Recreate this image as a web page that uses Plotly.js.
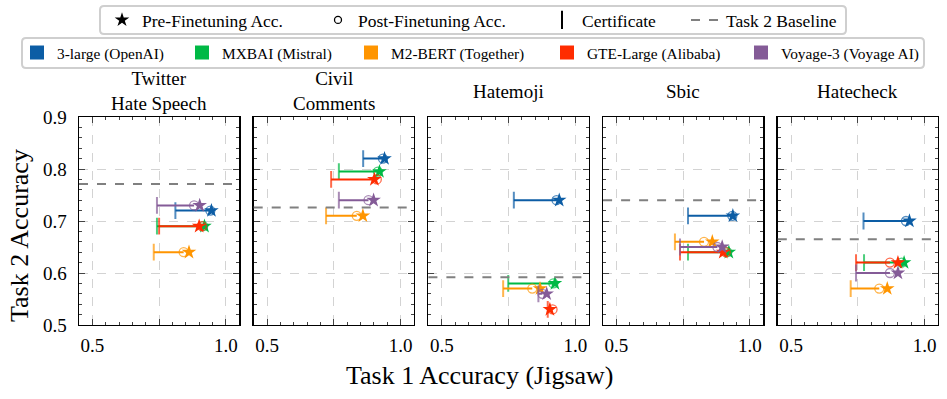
<!DOCTYPE html>
<html>
<head>
<meta charset="utf-8">
<script src="https://cdn.plot.ly/plotly-3.0.1.min.js"></script>
<style>body{margin:0;background:#fff}#chart{width:947px;height:399px}</style>
</head>
<body>
<div id="chart"></div>
<script>
const datasets = ['Twitter<br>Hate Speech', 'Civil<br>Comments', 'Hatemoji', 'Sbic', 'Hatecheck'];
const models = ['3-large (OpenAI)', 'MXBAI (Mistral)', 'M2-BERT (Together)', 'GTE-Large (Alibaba)', 'Voyage-3 (Voyage AI)'];
const colors = ['#0C5DA5', '#00B945', '#FF9500', '#FF2C00', '#845B97'];
const baseline = [0.771, 0.726, 0.592, 0.740, 0.665];

// rows = models, cols = datasets
const preAcc = [
    [0.946, 0.940, 0.940, 0.936, 0.943],
    [0.920, 0.921, 0.924, 0.921, 0.923],
    [0.862, 0.859, 0.868, 0.859, 0.860],
    [0.900, 0.902, 0.905, 0.900, 0.900],
    [0.902, 0.899, 0.893, 0.896, 0.900]
];
const postAcc = [
    [0.942, 0.934, 0.930, 0.934, 0.930],
    [0.915, 0.915, 0.918, 0.915, 0.914],
    [0.842, 0.836, 0.839, 0.828, 0.830],
    [0.910, 0.911, 0.915, 0.909, 0.870],
    [0.881, 0.880, 0.877, 0.878, 0.870]
];
const certAcc = [
    [0.811, 0.860, 0.770, 0.768, 0.771],
    [0.742, 0.769, 0.749, 0.768, 0.773],
    [0.730, 0.721, 0.730, 0.719, 0.723],
    [0.750, 0.740, 0.897, 0.738, 0.743],
    [0.742, 0.769, 0.862, 0.738, 0.743]
];
const task2Acc = [
    [0.72, 0.82, 0.74, 0.71, 0.70],
    [0.69, 0.795, 0.58, 0.64, 0.62],
    [0.64, 0.71, 0.57, 0.66, 0.57],
    [0.69, 0.78, 0.53, 0.64, 0.62],
    [0.73, 0.74, 0.56, 0.65, 0.60]
];
const markerNames = ['Pre-Finetuning Acc.', 'Post-Finetuning Acc.', 'Certificate', 'Task 2 Baseline'];

const FONT = 'Liberation Serif, serif';
const W = 947, H = 399;
const M = { l: 79, r: 9, t: 117, b: 74, autoexpand: false };
const PWpx = W - M.l - M.r, PHpx = H - M.t - M.b;
const GAP = 14.5 / PWpx;
const PW = (1 - 4 * GAP) / 5;

// pixel helpers for things placed outside the plots
const px2x = px => (px - M.l) / PWpx;
const px2y = py => (H - M.b - py) / PHpx;

const traces = [];
const layout = {
    width: W, height: H, margin: M,
    paper_bgcolor: '#fff', plot_bgcolor: '#fff',
    font: { family: FONT, size: 19, color: '#000' },
    showlegend: true,
    shapes: [], annotations: []
};

datasets.forEach((ds, d) => {
    const n = d === 0 ? '' : d + 1;
    const xa = 'x' + n, ya = 'y' + n;
    layout['xaxis' + n] = {
        domain: [d * (PW + GAP), d * (PW + GAP) + PW],
        range: [0.45, 1.05], anchor: ya,
        tickvals: [0.5, 0.75, 1.0], ticktext: ['0.5', '', '1.0'],
        ticks: 'inside', ticklen: 6, tickwidth: 1, mirror: 'allticks', ticklabelstandoff: 3,
        showline: true, linecolor: '#000', linewidth: 1.4,
        showgrid: true, gridcolor: '#d3d3d3', griddash: 'dash', gridwidth: 1,
        minor: { dtick: 0.05, ticks: 'inside', ticklen: 3, showgrid: false },
        zeroline: false, fixedrange: true
    };
    layout['yaxis' + n] = {
        range: [0.5, 0.9], anchor: xa,
        dtick: 0.1, tickformat: '.1f', showticklabels: d === 0,
        ticks: 'inside', ticklen: 6, tickwidth: 1, mirror: 'allticks', ticklabelstandoff: 7,
        showline: true, linecolor: '#000', linewidth: 1.4,
        showgrid: true, gridcolor: '#d3d3d3', griddash: 'dash', gridwidth: 1,
        minor: { dtick: 0.02, ticks: 'inside', ticklen: 3, showgrid: false },
        zeroline: false, fixedrange: true
    };
    layout.shapes.push({
        type: 'line', xref: xa + ' domain', yref: ya, x0: 0, x1: 1,
        y0: baseline[d], y1: baseline[d],
        line: { color: '#808080', width: 2, dash: 'dash' }
    });
    layout.annotations.push({
        text: ds, xref: xa + ' domain', yref: 'paper', x: 0.5, y: px2y(91),
        xanchor: 'center', yanchor: 'middle', showarrow: false,
        font: { size: 19 }
    });
    models.forEach((m, k) => {
        traces.push({
            x: [certAcc[k][d], postAcc[k][d]], y: [task2Acc[k][d], task2Acc[k][d]],
            xaxis: xa, yaxis: ya, mode: 'lines+markers', showlegend: false,
            line: { color: colors[k], width: 2 },
            marker: { symbol: ['line-ns-open', 'circle-open'], size: [12, 9],
                color: colors[k], line: { color: colors[k], width: [2, 1.3] } },
            hoverinfo: 'skip'
        });
        traces.push({
            x: [preAcc[k][d]], y: [task2Acc[k][d]],
            xaxis: xa, yaxis: ya, mode: 'markers', showlegend: false,
            marker: { symbol: 'star', size: 11, color: colors[k] },
            hoverinfo: 'skip'
        });
    });
});

function roundRect(x0, y0, x1, y1, r) {
    const X = px2x, Y = px2y;
    return `M${X(x0 + r)},${Y(y0)} L${X(x1 - r)},${Y(y0)} Q${X(x1)},${Y(y0)} ${X(x1)},${Y(y0 + r)} ` +
        `L${X(x1)},${Y(y1 - r)} Q${X(x1)},${Y(y1)} ${X(x1 - r)},${Y(y1)} L${X(x0 + r)},${Y(y1)} ` +
        `Q${X(x0)},${Y(y1)} ${X(x0)},${Y(y1 - r)} L${X(x0)},${Y(y0 + r)} Q${X(x0)},${Y(y0)} ${X(x0 + r)},${Y(y0)} Z`;
}
layout.shapes.push({ type: 'path', xref: 'paper', yref: 'paper', path: roundRect(100, 6, 846, 34, 4),
    fillcolor: '#fff', line: { color: '#cfcfcf', width: 2 } });
layout.shapes.push({ type: 'path', xref: 'paper', yref: 'paper', path: roundRect(22, 38, 924, 68, 4),
    fillcolor: '#fff', line: { color: '#cfcfcf', width: 2 } });

// one legend per entry so each sits where the reference puts it
const legText1 = [142, 358, 582, 726];
const legText2 = [57, 222, 391, 587, 781];
const legendStyles = [
    { mode: 'markers', marker: { symbol: 'star', size: 11, color: '#000' } },
    { mode: 'markers', marker: { symbol: 'circle-open', size: 7, color: '#000', line: { width: 1.3 } } },
    { mode: 'markers', marker: { symbol: 'line-ns-open', size: 13, color: '#000', line: { width: 2, color: '#000' } } },
    { mode: 'lines', line: { color: '#808080', width: 2, dash: 'dash' } }
];
let li = 1;
function addLegend(name, style, textX, cy, size) {
    const id = li === 1 ? 'legend' : 'legend' + li;
    li++;
    traces.push(Object.assign({ x: [null], y: [null], name: name, legend: id }, style));
    layout[id] = {
        x: (textX - 40) / W, xref: 'container', xanchor: 'left',
        y: 1 - cy / H, yref: 'container', yanchor: 'middle',
        bgcolor: 'rgba(0,0,0,0)', borderwidth: 0, itemwidth: 30,
        font: { size: size }
    };
}
markerNames.forEach((nm, i) => addLegend(nm, legendStyles[i], legText1[i], 20, 17.5));
models.forEach((m, k) => addLegend(m, { mode: 'markers', marker: { symbol: 'square', size: 14, color: colors[k] } },
    legText2[k], 53, 15.4));

layout.annotations.push({
    text: 'Task 1 Accuracy (Jigsaw)', xref: 'paper', yref: 'paper',
    x: px2x(479), y: px2y(375), xanchor: 'center', yanchor: 'middle', showarrow: false,
    font: { size: 26 }
});
layout.annotations.push({
    text: 'Task 2 Accuracy', xref: 'paper', yref: 'paper', textangle: -90,
    x: px2x(19), y: px2y(236), xanchor: 'center', yanchor: 'middle', showarrow: false,
    font: { size: 26 }
});

Plotly.newPlot('chart', traces, layout, { displayModeBar: false, staticPlot: true });
</script>
</body>
</html>
